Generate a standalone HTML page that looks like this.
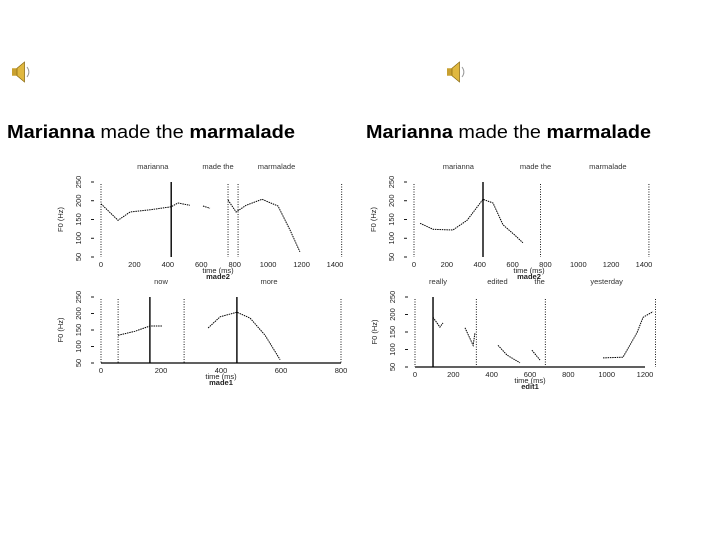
<!DOCTYPE html>
<html><head><meta charset="utf-8"><style>
body{margin:0;background:#fff;}
svg{display:block;font-family:"Liberation Sans",sans-serif;}
.t{font-size:7.5px;fill:#222;}
.w{font-size:7.5px;fill:#333;}
</style></head><body>
<svg id="s" width="720" height="540" viewBox="0 0 720 540">
<g transform="translate(12,62) scale(1.25)">
<rect x="0" y="5" width="4" height="6" fill="#c8a030"/><path d="M4 5 L10 0 L10 16 L4 11Z" fill="#e0b840" stroke="#8a6a10" stroke-width="0.6"/>
<path d="M12 4 Q15 8 12 12" fill="none" stroke="#999" stroke-width="0.8"/></g>
<g transform="translate(447,62) scale(1.25)">
<rect x="0" y="5" width="4" height="6" fill="#c8a030"/><path d="M4 5 L10 0 L10 16 L4 11Z" fill="#e0b840" stroke="#8a6a10" stroke-width="0.6"/>
<path d="M12 4 Q15 8 12 12" fill="none" stroke="#999" stroke-width="0.8"/></g>
<text x="7" y="138" font-size="18" textLength="288" lengthAdjust="spacingAndGlyphs"><tspan font-weight="bold">Marianna</tspan> made the <tspan font-weight="bold">marmalade</tspan></text>
<text x="366" y="138" font-size="18" textLength="285" lengthAdjust="spacingAndGlyphs"><tspan font-weight="bold">Marianna</tspan> made the <tspan font-weight="bold">marmalade</tspan></text>
<g id="plots"></g>
</svg>
<script>
// Left top: time (ms) vs pitch (relative units 0-100)
const ltT=[[0,102,174,293,419,461,532],[610,652],[760,808,868,963,1059,1131,1190]];
const ltV=[[71,49,60,63,67,72,69],[68,65],[76,60,69,77,68,36,7]];
const ltTicks=[0,200,400,600,800,1000,1200,1400];
// Left bottom
const lbT=[[57,113,163,203],[277],[357,397,453,497,547,597]];
const lbV=[[42,48,56,56],[55],[53,70,77,68,42,5]];
const lbTicks=[0,200,400,600,800];
// Right top
const rtT=[[37,116,237,323,420,481,542,615,663]];
const rtV=[[45,37,36,49,77,72,43,29,19]];
const rtTicks=[0,200,400,600,800,1000,1200,1400];
// Right bottom
const rbT=[[94,130,146],[261,303,313],[433,480,548],[610,652],[981,1085,1158,1190,1242]];
const rbV=[[71,57,63],[56,31,49],[31,17,6],[24,10],[13,14,49,71,79]];
const rbTicks=[0,200,400,600,800,1000,1200];
const yTickLabels=['50','100','150','200','250'];

const NS='http://www.w3.org/2000/svg';
const root=document.getElementById('plots');
function mk(tag,at,parent){const e=document.createElementNS(NS,tag);for(const k in at)e.setAttribute(k,at[k]);parent.appendChild(e);return e;}
function plot(name,box,xmax,ticks,T,V,solids,dots,words,axisLine,xlab,sub){
  const g=mk('g',{},root);
  
  
  const sx=t=>box.x0+(t/xmax)*(box.x1-box.x0);
  const sy=v=>box.y1-(v/100)*(box.y1-box.y0);
  if(axisLine){const a=mk('line',{x1:box.x0,x2:box.x1,y1:box.y1,y2:box.y1,stroke:'#000','stroke-width':1.3},g);
    
    }
  ticks.forEach(tk=>{const tx=mk('text',{x:sx(tk),y:box.y1+10,'text-anchor':'middle',class:'t'},g);tx.textContent=tk;
    
    });
  const xl=mk('text',{x:(box.x0+box.x1)/2,y:box.y1+16,'text-anchor':'middle',class:'t'},g);xl.textContent=xlab;
  
  
  const sb=mk('text',{x:(box.x0+box.x1)/2,y:box.y1+22,'text-anchor':'middle',class:'t','font-weight':'bold'},g);sb.textContent=sub;
  
  
  const yl=mk('text',{x:box.x0-38,y:(box.y0+box.y1)/2,'text-anchor':'middle',class:'t',transform:`rotate(-90 ${box.x0-38} ${(box.y0+box.y1)/2})`},g);yl.textContent='F0 (Hz)';
  
  
  [0,25,50,75,100].forEach((v,i)=>{const l=mk('line',{x1:box.x0-10,x2:box.x0-7,y1:sy(v),y2:sy(v),stroke:'#000','stroke-width':0.9},g);
    
    
    const tl=mk('text',{x:box.x0-20,y:sy(v),'text-anchor':'middle',class:'t',transform:`rotate(-90 ${box.x0-20} ${sy(v)})`},g);tl.textContent=yTickLabels[i];
    
    });
  dots.forEach(t=>{const l=mk('line',{x1:sx(t),x2:sx(t),y1:box.y0+2,y2:box.y1,stroke:'#000','stroke-width':0.9,'stroke-dasharray':'1 1.5'},g);
    
    });
  solids.forEach(t=>{const l=mk('line',{x1:sx(t),x2:sx(t),y1:box.y0,y2:box.y1,stroke:'#000','stroke-width':1.4},g);
    
    });
  words.forEach(w=>{const tx=mk('text',{x:sx(w[0]),y:box.y0-13,'text-anchor':'middle',class:'w'},g);tx.textContent=w[1];
    
    });
  T.forEach((ts,i)=>{const pts=ts.map((t,j)=>sx(t).toFixed(1)+','+sy(V[i][j]).toFixed(1)).join(' ');
    const p=mk('polyline',{points:pts,fill:'none',stroke:'#000','stroke-width':1,'stroke-dasharray':'1.5 0.8'},g);
    
    });
}
plot('chart-left-top',{x0:101,x1:335,y0:182,y1:257},1400,ltTicks,ltT,ltV,[420],[0,760,820,1440],[[310,'marianna'],[700,'made the'],[1050,'marmalade']],false,'time (ms)','made2');
plot('chart-left-bottom',{x0:101,x1:341,y0:297,y1:363},800,lbTicks,lbT,lbV,[163,453],[0,57,277,800],[[200,'now'],[560,'more']],true,'time (ms)','made1');
plot('chart-right-top',{x0:414,x1:644,y0:182,y1:257},1400,rtTicks,rtT,rtV,[420],[0,770,1430],[[270,'marianna'],[740,'made the'],[1180,'marmalade']],false,'time (ms)','made2');
plot('chart-right-bottom',{x0:415,x1:645,y0:297,y1:367},1200,rbTicks,rbT,rbV,[94],[0,320,680,1255],[[120,'really'],[430,'edited'],[650,'the'],[1000,'yesterday']],true,'time (ms)','edit1');
</script>
</body></html>
